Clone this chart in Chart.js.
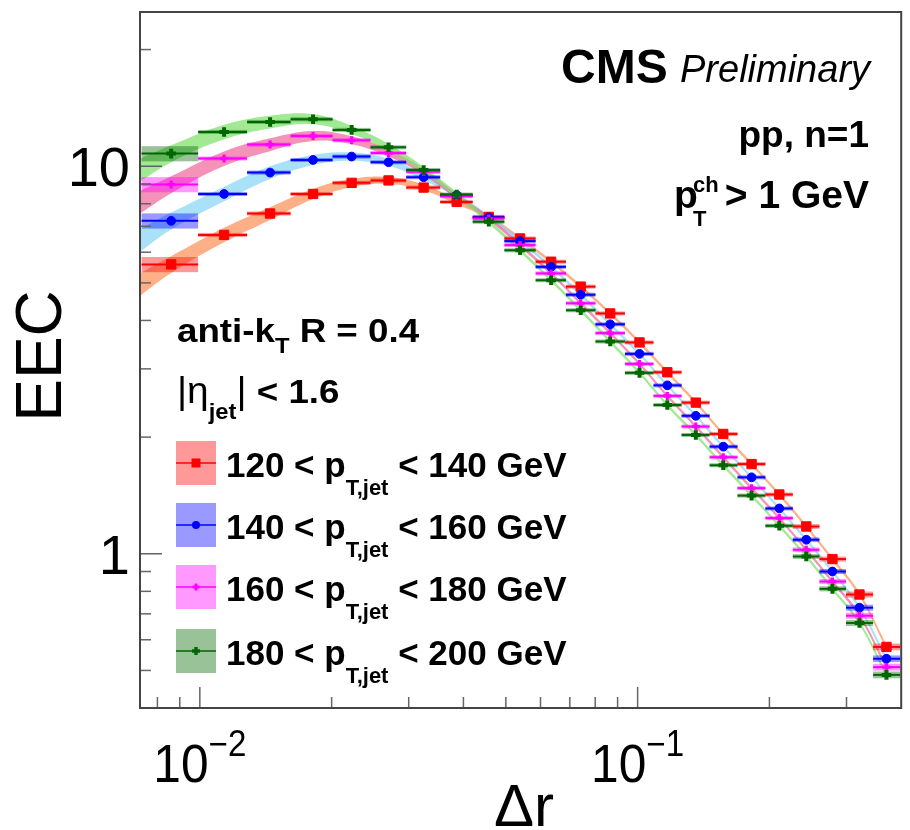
<!DOCTYPE html>
<html>
<head>
<meta charset="utf-8">
<script src="https://cdn.jsdelivr.net/npm/chart.js@4.4.1/dist/chart.umd.min.js"></script>
<style>
  html, body { margin: 0; padding: 0; background: #fff; }
  #wrap { width: 910px; height: 830px; position: relative; }
</style>
</head>
<body>
<div id="wrap"><canvas id="eec-chart"></canvas></div>
<script>
// Delta r bins (edges and centres)
const binEdges = [0.00736, 0.00991, 0.01282, 0.01612, 0.0201, 0.02454, 0.0296, 0.0354, 0.042, 0.04962,
  0.05848, 0.06859, 0.08011, 0.09354, 0.1087, 0.126, 0.146, 0.1691, 0.1958, 0.2262, 0.2602, 0.2992, 0.345, 0.398];
const binCenters = [0.0086, 0.01136, 0.01447, 0.01814, 0.02222, 0.02698, 0.03245, 0.03861, 0.04571, 0.05389,
  0.06345, 0.07413, 0.08657, 0.101, 0.1169, 0.1358, 0.1569, 0.1821, 0.2107, 0.2428, 0.2786, 0.3212, 0.3702];

// EEC per jet pT bin
const eec120 = [5.58, 6.65, 7.55, 8.48, 9.06, 9.19, 8.81, 8.09, 7.40, 6.51, 5.67, 4.89, 4.17, 3.51, 2.94,
  2.455, 2.038, 1.704, 1.422, 1.176, 0.969, 0.785, 0.575];
const eec140 = [7.23, 8.48, 9.63, 10.38, 10.59, 10.24, 9.37, 8.42, 7.38, 6.41, 5.50, 4.66, 3.91, 3.28, 2.72,
  2.27, 1.89, 1.575, 1.309, 1.087, 0.900, 0.726, 0.536];
const eec160 = [8.97, 10.47, 11.37, 11.97, 11.67, 10.82, 9.67, 8.37, 7.33, 6.26, 5.29, 4.43, 3.71, 3.09, 2.555,
  2.13, 1.775, 1.477, 1.236, 1.024, 0.848, 0.692, 0.510];
const eec180 = [10.78, 12.26, 13.01, 13.22, 12.41, 11.19, 9.78, 8.45, 7.19, 6.07, 5.08, 4.25, 3.53, 2.93, 2.42,
  2.026, 1.692, 1.413, 1.181, 0.984, 0.812, 0.663, 0.487];

// relative systematic (boxes) per bin
const sysRelErr = [0.045, 0.012, 0.012, 0.012, 0.012, 0.012, 0.012, 0.012, 0.012, 0.012, 0.012, 0.012,
  0.012, 0.012, 0.012, 0.012, 0.012, 0.012, 0.012, 0.014, 0.015, 0.018, 0.02];

// smooth bands: value at the left frame edge, then relative half width (edge + each bin)
const bandStart = [4.96, 6.45, 8.09, 9.79];
const bandRelErr = [0.067, 0.05, 0.043, 0.038, 0.03, 0.024, 0.021, 0.018, 0.014, 0.012, 0.011, 0.01,
  0.01, 0.01, 0.01, 0.01, 0.01, 0.01, 0.01, 0.01, 0.01, 0.01, 0.012, 0.014];

const ptBins = [[120, 140], [140, 160], [160, 180], [180, 200]];

const xMin = 0.0073, xMax = 0.4, yMin = 0.4, yMax = 25;
const xMajorTicks = [0.01, 0.1];
const xMinorTicks = [0.008, 0.009, 0.02, 0.03, 0.04, 0.05, 0.06, 0.07, 0.08, 0.09, 0.2, 0.3];
const xTickExp = ['\u22122', '\u22121'];
const yMajorTicks = [1, 10];
const yMinorTicks = [0.5, 0.6, 0.7, 0.8, 0.9, 2, 3, 4, 5, 6, 7, 8, 9, 20];
const yTickLabels = ['1', '10'];

const FONT = '"Liberation Sans", Arial, Helvetica, sans-serif';
const B = n => `bold ${n}px ${FONT}`;
const N = n => `${n}px ${FONT}`;
const I = n => `italic ${n}px ${FONT}`;

const series = [
  { values: eec120, color: '#ff0000', box: 'rgba(255,0,0,0.4)', band: 'rgba(252,150,95,0.75)', style: 'rect', radius: 6.6, bw: 1 },
  { values: eec140, color: '#0000ff', box: 'rgba(0,0,255,0.4)', band: 'rgba(140,215,245,0.75)', style: 'circle', radius: 4.4, bw: 1 },
  { values: eec160, color: '#ff00ff', box: 'rgba(255,0,255,0.4)', band: 'rgba(240,110,160,0.75)', style: 'cross', radius: 4, bw: 3.2 },
  { values: eec180, color: '#006600', box: 'rgba(0,102,0,0.4)', band: 'rgba(130,225,110,0.75)', style: 'cross', radius: 4.8, bw: 4 },
];

const datasets = [];
series.forEach((s, k) => {
  const bx = [xMin, ...binCenters];
  const mid = [bandStart[k], ...s.values];
  datasets.push({
    data: bx.map((x, i) => ({ x, y: mid[i] * (1 - bandRelErr[i]) })),
    showLine: true, pointRadius: 0, borderWidth: 0, borderColor: 'transparent',
    tension: 0.4, fill: false, order: 20 - k,
  });
  datasets.push({
    data: bx.map((x, i) => ({ x, y: mid[i] * (1 + bandRelErr[i]) })),
    showLine: true, pointRadius: 0, borderWidth: 0, borderColor: 'transparent',
    tension: 0.4, fill: '-1', backgroundColor: s.band, order: 20 - k,
  });
});
series.forEach((s, k) => {
  datasets.push({
    isMarker: true,
    data: binCenters.map((x, i) => ({ x, y: s.values[i] })),
    pointStyle: s.style, pointRadius: s.radius, pointBorderWidth: s.bw,
    pointBackgroundColor: s.color, pointBorderColor: s.color,
    showLine: false, order: 4 - k,
  });
});

function drawRuns(ctx, x, y, runs, align, sx) {
  sx = sx || 1;
  let total = 0;
  runs.forEach(r => { ctx.font = r.f; r.w = ctx.measureText(r.t).width; total += r.w; });
  let start = x;
  if (align === 'right') start = x - total * sx;
  if (align === 'center') start = x - total * sx / 2;
  ctx.save();
  ctx.translate(start, y);
  ctx.scale(sx, 1);
  let cx = 0;
  runs.forEach(r => {
    ctx.font = r.f;
    ctx.fillText(r.t, cx, r.dy || 0);
    cx += r.w;
  });
  ctx.restore();
}

function drawErrors(chart) {
  const { ctx, scales: { x, y } } = chart;
  ctx.save();
  series.forEach(s => {
    ctx.fillStyle = s.box;
    s.values.forEach((v, i) => {
      const x0 = x.getPixelForValue(binEdges[i]);
      const x1 = x.getPixelForValue(binEdges[i + 1]);
      const y0 = y.getPixelForValue(v * (1 + sysRelErr[i]));
      const y1 = y.getPixelForValue(v * (1 - sysRelErr[i]));
      ctx.fillRect(x0, y0, x1 - x0, y1 - y0);
    });
  });
  series.forEach(s => {
    ctx.strokeStyle = s.color;
    ctx.lineWidth = 2;
    s.values.forEach((v, i) => {
      const py = y.getPixelForValue(v);
      ctx.beginPath();
      ctx.moveTo(x.getPixelForValue(binEdges[i]), py);
      ctx.lineTo(x.getPixelForValue(binEdges[i + 1]), py);
      ctx.stroke();
    });
  });
  ctx.restore();
}

function drawAxes(chart) {
  const { ctx, chartArea: a, scales: { x, y } } = chart;
  ctx.save();
  ctx.strokeStyle = '#666';
  ctx.lineWidth = 1.5;
  const tick = (x0, y0, x1, y1) => { ctx.beginPath(); ctx.moveTo(x0, y0); ctx.lineTo(x1, y1); ctx.stroke(); };
  yMinorTicks.forEach(v => { const p = y.getPixelForValue(v); tick(a.left, p, a.left + 11, p); });
  yMajorTicks.forEach(v => { const p = y.getPixelForValue(v); tick(a.left, p, a.left + 22, p); });
  xMinorTicks.forEach(v => { const p = x.getPixelForValue(v); tick(p, a.bottom, p, a.bottom - 11); });
  xMajorTicks.forEach(v => { const p = x.getPixelForValue(v); tick(p, a.bottom, p, a.bottom - 21); });
  ctx.strokeStyle = '#444';
  ctx.lineWidth = 2;
  ctx.strokeRect(a.left, a.top, a.right - a.left, a.bottom - a.top);

  ctx.fillStyle = '#000';
  ctx.textBaseline = 'alphabetic';
  yMajorTicks.forEach((v, i) => {
    ctx.font = N(56);
    ctx.textAlign = 'right';
    ctx.fillText(yTickLabels[i], a.left - 10, y.getPixelForValue(v) + 20);
  });
  ctx.textAlign = 'left';
  xMajorTicks.forEach((v, i) => {
    drawRuns(ctx, x.getPixelForValue(v), a.bottom + 74,
      [{ t: '10', f: N(54) }, { t: xTickExp[i], f: N(36), dy: -26 }], 'center', 0.92);
  });
  ctx.font = N(60);
  ctx.textAlign = 'center';
  ctx.fillText('\u0394r', 524, 826);
  ctx.save();
  ctx.translate(61, 356);
  ctx.rotate(-Math.PI / 2);
  ctx.font = N(64);
  ctx.fillText('EEC', 0, 0);
  ctx.restore();
  ctx.restore();
}

function drawTexts(chart) {
  const { ctx } = chart;
  ctx.save();
  ctx.fillStyle = '#000';
  ctx.textAlign = 'left';
  ctx.textBaseline = 'alphabetic';
  ctx.font = B(48);
  ctx.fillText('CMS', 561, 83);
  ctx.font = I(38);
  ctx.fillText('Preliminary', 680, 82);
  drawRuns(ctx, 869, 147, [{ t: 'pp, n=1', f: B(37) }], 'right');
  drawRuns(ctx, 869, 208, [{ t: '> 1 GeV', f: B(39) }], 'right');
  ctx.font = B(39);
  ctx.fillText('p', 674, 208);
  ctx.font = B(22);
  ctx.fillText('ch', 693, 192);
  ctx.fillText('T', 693, 226);
  drawRuns(ctx, 177, 342, [
    { t: 'anti-k', f: B(34) }, { t: 'T', f: B(22), dy: 11 }, { t: ' R = 0.4', f: B(34) },
  ], 'left', 1.08);
  drawRuns(ctx, 177, 403, [
    { t: '|\u03b7', f: N(36) }, { t: 'jet', f: B(22), dy: 16 }, { t: '|', f: N(36) }, { t: ' < 1.6', f: B(34) },
  ], 'left', 1.08);
  ctx.restore();
}

function drawLegend(chart) {
  const { ctx } = chart;
  ctx.save();
  const tops = [441, 503, 565, 629];
  series.forEach((s, k) => {
    const top = tops[k], cx = 196, cy = top + 22;
    ctx.fillStyle = s.box;
    ctx.fillRect(176, top, 40, 44);
    ctx.strokeStyle = s.color;
    ctx.lineWidth = 1.5;
    ctx.beginPath(); ctx.moveTo(176, cy); ctx.lineTo(216, cy); ctx.stroke();
    ctx.fillStyle = s.color;
    if (s.style === 'rect') ctx.fillRect(cx - 4.5, cy - 4.5, 9, 9);
    else if (s.style === 'circle') { ctx.beginPath(); ctx.arc(cx, cy, 4, 0, Math.PI * 2); ctx.fill(); }
    else {
      const r = k === 2 ? 3.5 : 4;
      ctx.lineWidth = k === 2 ? 2.8 : 3.4;
      ctx.beginPath(); ctx.moveTo(cx - r, cy); ctx.lineTo(cx + r, cy);
      ctx.moveTo(cx, cy - r); ctx.lineTo(cx, cy + r); ctx.stroke();
    }
    ctx.fillStyle = '#000';
    drawRuns(ctx, 226, top + 36, [
      { t: ptBins[k][0] + ' < p', f: B(35) }, { t: 'T,jet', f: B(22), dy: 18 },
      { t: ' < ' + ptBins[k][1] + ' GeV', f: B(35) },
    ], 'left', 1.0);
  });
  ctx.restore();
}

const rootStyle = {
  id: 'rootStyle',
  beforeDatasetsDraw(chart) { chart.$errDrawn = false; },
  beforeDatasetDraw(chart, args) {
    const ds = chart.data.datasets[args.index];
    if (ds.isMarker && !chart.$errDrawn) {
      drawErrors(chart);
      chart.$errDrawn = true;
    }
  },
  afterDraw(chart) {
    drawAxes(chart);
    drawTexts(chart);
    drawLegend(chart);
  },
};

new Chart(document.getElementById('eec-chart'), {
  type: 'scatter',
  data: { datasets },
  options: {
    responsive: true,
    maintainAspectRatio: false,
    animation: false,
    events: [],
    layout: { padding: { left: 140, top: 12, right: 3, bottom: 122 } },
    plugins: { legend: { display: false }, tooltip: { enabled: false } },
    scales: {
      x: { type: 'logarithmic', min: xMin, max: xMax, display: false },
      y: { type: 'logarithmic', min: yMin, max: yMax, display: false },
    },
  },
  plugins: [rootStyle],
});
</script>
</body>
</html>
